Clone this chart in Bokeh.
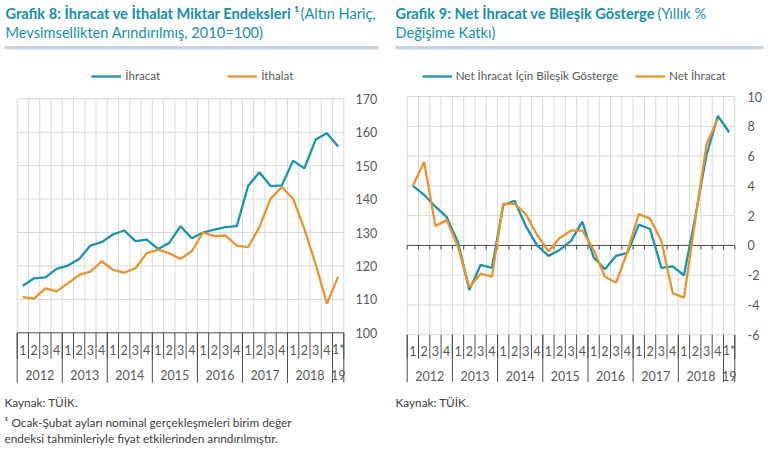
from bokeh.plotting import figure
from bokeh.models import Label, Legend, LegendItem, FixedTicker, Range1d, BoxAnnotation
from bokeh.layouts import row, column
from bokeh.embed import file_html
from bokeh.resources import INLINE
from bokeh.core.properties import value

# ---------------- data ----------------
period_years = ["2012"] * 4 + ["2013"] * 4 + ["2014"] * 4 + ["2015"] * 4 + \
               ["2016"] * 4 + ["2017"] * 4 + ["2018"] * 4 + ["19"]
period_quarters = ["1", "2", "3", "4"] * 7 + ["1*"]

ihracat = [114.1, 116.3, 116.6, 119.1, 120.1, 122.1, 126.1, 127.1, 129.4, 130.6,
           127.4, 127.9, 125.1, 126.9, 131.9, 128.3, 130.0, 130.9, 131.6, 131.9,
           143.9, 148.0, 143.9, 144.1, 151.5, 149.2, 157.8, 159.7, 155.7]
ithalat = [110.7, 110.2, 113.3, 112.4, 114.8, 117.3, 118.3, 121.4, 118.8, 118.0,
           119.3, 123.8, 124.9, 123.8, 122.1, 124.4, 130.0, 128.9, 129.1, 126.1,
           125.6, 131.6, 140.1, 143.6, 140.1, 131.1, 120.5, 108.7, 116.8]

bilesik = [4.0, 3.4, 2.6, 1.9, 0.2, -3.0, -1.3, -1.5, 2.7, 3.0,
           1.3, 0.0, -0.7, -0.3, 0.3, 1.6, -0.8, -1.6, -0.7, -0.5,
           1.4, 1.1, -1.5, -1.4, -2.0, 1.9, 6.1, 8.7, 7.6]
net_ihracat = [4.0, 5.6, 1.3, 1.7, -0.1, -2.8, -1.9, -2.1, 2.8, 2.8,
               2.1, 0.7, -0.4, 0.5, 1.0, 1.0, -0.3, -2.1, -2.5, -0.4,
               2.1, 1.8, 0.3, -3.2, -3.5, 1.7, 6.8, 8.5]

left_ticks = [100, 110, 120, 130, 140, 150, 160, 170]
right_ticks = [-6, -4, -2, 0, 2, 4, 6, 8, 10]

# ---------------- style ----------------
HH = 50          # header height
H = 404          # chart height
FONT = "Lato"
BLUE = "#1a93ae"
ORANGE = "#e8952e"
TEAL = "#168fac"
GRID = "#d9d9d9"
AXIS = "#4d4d4d"
TXT = "#595959"
NOTE = "#404040"
BAR = "#c9d3e2"


def header(width, bar_l, bar_r, parts):
    h = figure(width=width, height=HH, x_range=Range1d(0, 1), y_range=Range1d(0, 1),
               output_backend="svg", toolbar_location=None,
               x_axis_location=None, y_axis_location=None,
               min_border_left=0, min_border_right=0, min_border_top=0, min_border_bottom=0)
    h.outline_line_color = None
    h.grid.visible = False
    h.add_layout(BoxAnnotation(left=bar_l, right=bar_r, top=HH - 45.5, bottom=HH - 49,
                               left_units="screen", right_units="screen",
                               top_units="screen", bottom_units="screen",
                               fill_color=BAR, fill_alpha=1, line_color=None))
    for (x, cy, text, bold) in parts:
        h.add_layout(Label(x=x, y=HH - cy, x_units="screen", y_units="screen", text=text,
                           text_font=FONT, text_font_size="14.6px", text_color=TEAL,
                           text_font_style="bold" if bold else "normal",
                           text_baseline="middle", text_align="left"))
    return h


def base_fig(width, frame_w, plot_l, plot_r, v_top, px_top, v_bot, px_bot, ticks):
    n = len(period_quarters)
    cw = (plot_r - plot_l) / n
    xs = -0.5 - plot_l / cw
    xe = xs + frame_w / cw
    ppu = (px_bot - px_top) / (v_top - v_bot)
    ye = v_top + px_top / ppu
    ys = v_bot - (H - px_bot) / ppu
    p = figure(width=width, height=H, x_range=Range1d(xs, xe), y_range=Range1d(ys, ye),
               output_backend="svg", toolbar_location=None,
               x_axis_location=None, y_axis_location="right",
               min_border_left=0, min_border_top=0, min_border_bottom=0,
               min_border_right=width - frame_w)
    p.outline_line_color = None
    p.grid.visible = False
    ax = p.yaxis[0]
    ax.ticker = FixedTicker(ticks=ticks)
    ax.major_label_overrides = {t: str(t) for t in ticks}
    ax.axis_line_color = None
    ax.major_tick_line_color = None
    ax.minor_tick_line_color = None
    ax.major_tick_in = 0
    ax.major_tick_out = 0
    ax.major_label_standoff = 3
    ax.major_label_text_font = FONT
    ax.major_label_text_font_size = "12.5px"
    ax.major_label_text_color = TXT
    return p, ppu


def cat_axis(p, ppu, base_val, qdepth, ydepth, qlab, ylab):
    n = len(period_quarters)
    xs = list(range(n))
    bounds = [i - 0.5 for i in range(n + 1)]
    year_bounds = [-0.5] + [i - 0.5 for i in range(1, n) if period_years[i] != period_years[i - 1]] + [n - 0.5]
    p.segment(x0=bounds, y0=[base_val] * len(bounds), x1=bounds,
              y1=[base_val - qdepth / ppu] * len(bounds), line_color=AXIS, line_width=1)
    p.segment(x0=year_bounds, y0=[base_val] * len(year_bounds), x1=year_bounds,
              y1=[base_val - ydepth / ppu] * len(year_bounds), line_color=AXIS, line_width=1)
    p.text(x=xs, y=[base_val - qlab / ppu] * n, text=period_quarters,
           text_font=value(FONT), text_font_size="12.5px", text_color=TXT,
           text_align="center", text_baseline="middle")
    groups = []
    for i, yv in enumerate(period_years):
        if not groups or groups[-1][0] != yv:
            groups.append([yv, i, i])
        else:
            groups[-1][2] = i
    gx = [(g[1] + g[2]) / 2 for g in groups]
    p.text(x=gx, y=[base_val - ylab / ppu] * len(groups), text=[g[0] for g in groups],
           text_font=value(FONT), text_font_size="12.5px", text_color=TXT,
           text_align="center", text_baseline="middle")


def grid(p, ticks, v_bot, v_top, skip):
    n = len(period_quarters)
    bounds = [i - 0.5 for i in range(n + 1)]
    hy = [t for t in ticks if t != skip]
    p.segment(x0=[-0.5] * len(hy), y0=hy, x1=[n - 0.5] * len(hy), y1=hy,
              line_color=GRID, line_width=1)
    p.segment(x0=bounds, y0=[v_bot] * len(bounds), x1=bounds, y1=[v_top] * len(bounds),
              line_color=GRID, line_width=1)


def note(p, x, cy, text):
    p.add_layout(Label(x=x, y=H - cy, x_units="screen", y_units="screen", text=text,
                       text_font=FONT, text_font_size="11.8px", text_color=NOTE,
                       text_baseline="middle", text_align="left"))


def legend(p, x, cy, text, r):
    lg = Legend(items=[LegendItem(label=text, renderers=[r])], location=(x, H - cy - 7),
                orientation="horizontal", padding=0, margin=0, border_line_color=None,
                background_fill_alpha=0, glyph_width=30, glyph_height=14, label_height=14,
                label_standoff=4, label_text_font=FONT, label_text_font_size="11.6px",
                label_text_color=TXT)
    p.add_layout(lg)


# ---------------- left chart ----------------
W1, FW1 = 385, 352
h1 = header(W1, 4, 378, [
    (5, 12.5, "Grafik 8: İhracat ve İthalat Miktar Endeksleri ¹", True),
    (300, 12.5, "(Altın Hariç,", False),
    (5, 31.5, "Mevsimsellikten Arındırılmış, 2010=100)", False),
])
p1, ppu1 = base_fig(W1, FW1, 16.7, 343.3, 170, 98.3 - HH, 100, 332.3 - HH, left_ticks)
grid(p1, left_ticks, 100, 170, 100)
p1.segment(x0=[-0.5], y0=[100], x1=[len(period_quarters) - 0.5], y1=[100], line_color=AXIS, line_width=1)
cat_axis(p1, ppu1, 100, 26, 50, 17, 42)
r_ih = p1.line(list(range(len(ihracat))), ihracat, line_color=BLUE, line_width=2.3)
r_it = p1.line(list(range(len(ithalat))), ithalat, line_color=ORANGE, line_width=2.3)
legend(p1, 91.3, 75.7 - HH, "İhracat", r_ih)
legend(p1, 227.3, 75.7 - HH, "İthalat", r_it)
note(p1, 4, 401.7 - HH, "Kaynak: TÜİK.")
note(p1, 4, 421.7 - HH, "¹ Ocak-Şubat ayları nominal gerçekleşmeleri birim değer")
note(p1, 4, 438.3 - HH, "endeksi tahminleriyle fiyat etkilerinden arındırılmıştır.")

# ---------------- right chart ----------------
W2, FW2 = 388, 359
h2 = header(W2, 10, 378, [
    (10, 12.5, "Grafik 9: Net İhracat ve Bileşik Gösterge", True),
    (272, 12.5, "(Yıllık %", False),
    (10, 31.5, "Değişime Katkı)", False),
])
p2, ppu2 = base_fig(W2, FW2, 21.7, 349.3, 10, 96 - HH, -6, 334.3 - HH, right_ticks)
grid(p2, right_ticks, -6, 10, 0)
n = len(period_quarters)
bnds = [i - 0.5 for i in range(n + 1)]
p2.segment(x0=[-0.5], y0=[0], x1=[n - 0.5], y1=[0], line_color=AXIS, line_width=1)
p2.segment(x0=bnds, y0=[0] * len(bnds), x1=bnds, y1=[-4 / ppu2] * len(bnds), line_color=AXIS, line_width=1)
cat_axis(p2, ppu2, -6, 24, 47.4, 15.7, 40.7)
r_b = p2.line(list(range(len(bilesik))), bilesik, line_color=BLUE, line_width=2.3)
r_n = p2.line(list(range(len(net_ihracat))), net_ihracat, line_color=ORANGE, line_width=2.3)
legend(p2, 36.7, 75.7 - HH, "Net İhracat İçin Bileşik Gösterge", r_b)
legend(p2, 250, 75.7 - HH, "Net İhracat", r_n)
note(p2, 10, 401.7 - HH, "Kaynak: TÜİK.")

layout = column(row(h1, h2), row(p1, p2))
open("out.html", "w").write(file_html(layout, INLINE))
